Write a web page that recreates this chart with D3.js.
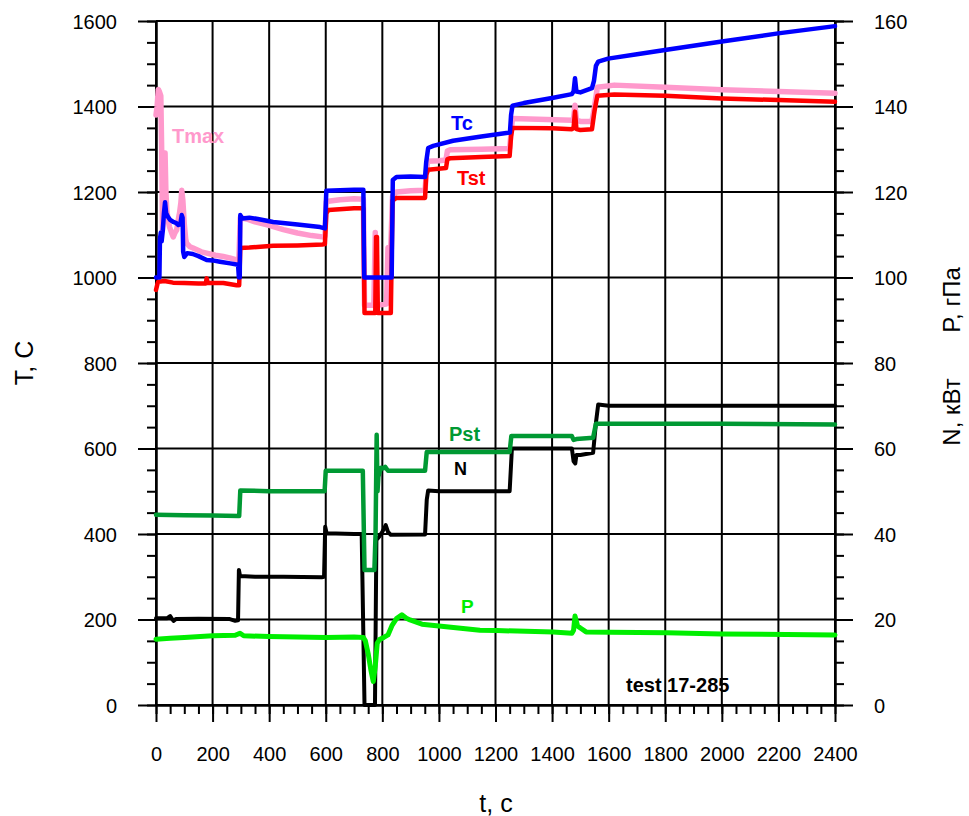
<!DOCTYPE html>
<html>
<head>
<meta charset="utf-8">
<script src="https://cdn.jsdelivr.net/npm/d3@7"></script>
<style>
  html, body { margin: 0; padding: 0; background: #fff; }
  svg { display: block; font-family: "Liberation Sans", Arial, sans-serif; }
</style>
</head>
<body>
<svg id="chart" width="969" height="816"></svg>
<script>
// ---------- DATA ----------
// time axis ticks (s)
const tMajorTicks = [0, 200, 400, 600, 800, 1000, 1200, 1400, 1600, 1800, 2000, 2200, 2400];
const tMinorTicks = d3.range(0, 2401, 50);
// left axis (T, C)
const tempMajorTicks = [0, 200, 400, 600, 800, 1000, 1200, 1400, 1600];
const tempMinorTicks = d3.range(0, 1601, 50);
// right axis (N, kW / P, hPa)
const rightMajorTicks = [0, 20, 40, 60, 80, 100, 120, 140, 160];
const rightMinorTicks = d3.range(0, 161, 5);

// Tc, C  [t, value]
const seriesTc = [[0,1000],[12,1000],[14,1090],[17,1105],[20,1085],[24,1110],[28,1150],[32,1176],[36,1150],[43,1141],[50,1135],[61,1130],[70,1128],[79,1123],[86,1125],[91,1146],[94,1140],[96,1060],[100,1048],[110,1057],[130,1055],[150,1050],[179,1041],[200,1040],[226,1037],[262,1033],[290,1030],[293,1000],[296,1000],[298,1146],[305,1138],[330,1140],[360,1137],[414,1130],[500,1124],[580,1118],[597,1115],[602,1203],[650,1204],[700,1205],[733,1205],[736,1000],[833,1000],[837,1228],[850,1235],[900,1236],[951,1235],[955,1270],[962,1303],[980,1308],[1050,1320],[1150,1330],[1251,1339],[1255,1380],[1260,1402],[1300,1408],[1400,1420],[1470,1429],[1476,1435],[1481,1466],[1486,1435],[1500,1433],[1541,1443],[1548,1460],[1555,1495],[1563,1505],[1598,1512],[1700,1522],[1799,1532],[2000,1552],[2199,1571],[2400,1588]];

// Tmax, C
const seriesTmax = [[0,1380],[4,1400],[8,1440],[12,1435],[17,1425],[20,1300],[23,1110],[27,1140],[30,1230],[32,1291],[35,1200],[38,1158],[44,1130],[48,1118],[55,1105],[61,1095],[67,1105],[73,1111],[80,1140],[83,1150],[88,1175],[91,1204],[95,1180],[100,1125],[105,1090],[108,1080],[120,1072],[131,1069],[160,1060],[179,1057],[210,1052],[238,1049],[260,1046],[285,1041],[293,1045],[298,1140],[320,1137],[350,1130],[400,1122],[450,1112],[500,1104],[550,1098],[588,1095],[597,1096],[602,1178],[650,1182],[700,1184],[733,1183],[737,935],[770,935],[775,1105],[780,935],[815,938],[820,1070],[830,1075],[836,1190],[850,1200],[900,1203],[951,1204],[955,1240],[960,1272],[1000,1273],[1025,1275],[1030,1296],[1040,1299],[1150,1300],[1250,1302],[1255,1340],[1260,1372],[1350,1370],[1470,1368],[1476,1372],[1481,1403],[1486,1368],[1500,1365],[1541,1365],[1550,1400],[1560,1445],[1620,1450],[1800,1445],[2000,1439],[2200,1435],[2400,1431]];

// Tst, C
const seriesTst = [[0,971],[5,985],[8,990],[30,992],[60,988],[100,987],[150,986],[176,986],[179,998],[183,987],[238,987],[285,982],[294,982],[298,1069],[330,1070],[414,1074],[500,1075],[588,1077],[597,1078],[602,1150],[610,1158],[700,1162],[733,1162],[737,917],[775,917],[778,1095],[781,1095],[784,917],[830,917],[836,1180],[850,1186],[951,1186],[955,1240],[962,1252],[1025,1256],[1030,1277],[1040,1279],[1150,1282],[1250,1284],[1255,1330],[1260,1350],[1400,1349],[1470,1347],[1476,1350],[1481,1388],[1486,1347],[1500,1345],[1541,1347],[1550,1390],[1560,1425],[1620,1428],[1800,1425],[2000,1419],[2200,1415],[2400,1411]];

// N, kW
const seriesN = [[0,20.3],[40,20.3],[50,20.8],[56,20.2],[62,19.7],[70,20.1],[150,20.2],[261,20.1],[280,19.7],[290,19.8],[293,31.6],[297,30.2],[350,30.0],[450,30.0],[586,29.9],[594,30.0],[598,41.7],[603,40.2],[700,40.0],[727,40.0],[737,0],[774,0],[779,38.6],[790,39.5],[800,40.5],[812,42.1],[820,40.5],[830,39.8],[951,39.9],[957,48],[962,50.2],[1000,50.0],[1150,50.0],[1250,50.0],[1258,60],[1300,60],[1470,60],[1476,57],[1482,56.5],[1486,58.5],[1500,58.5],[1545,59],[1555,66],[1563,70.3],[1600,70],[1800,70],[2000,70],[2400,70]];

// Pst, hPa
const seriesPst = [[0,44.5],[100,44.4],[200,44.3],[294,44.2],[298,50.2],[400,50.0],[500,50.0],[596,50.0],[600,54.8],[700,54.8],[731,54.8],[737,31.6],[772,31.6],[776,40],[780,63.2],[783,50],[786,53.4],[795,55.5],[805,55.4],[810,55.7],[820,54.8],[951,54.8],[957,59.2],[1000,59.2],[1250,59.2],[1256,62.9],[1470,62.9],[1476,62.0],[1486,62.2],[1545,62.5],[1555,65.8],[1600,65.8],[2000,65.8],[2400,65.6]];

// P, hPa
const seriesP = [[0,15.4],[50,15.6],[100,15.8],[200,16.2],[280,16.3],[297,16.8],[310,16.2],[400,16.0],[500,15.9],[600,15.8],[700,15.9],[733,15.8],[740,15.0],[750,12],[760,8],[768,5.5],[775,9],[782,14.5],[790,15.3],[805,15.8],[820,16.4],[835,18.7],[850,20.2],[869,21.1],[885,20.3],[898,19.9],[940,18.9],[1000,18.5],[1145,17.5],[1204,17.4],[1404,17.1],[1470,16.8],[1476,17.5],[1481,20.8],[1490,18.5],[1500,18.0],[1520,17.1],[1605,17.0],[1805,16.9],[2000,16.6],[2400,16.4]];

// ---------- CHART ----------
const svg = d3.select("#chart");
const x = d3.scaleLinear().domain([0, 2400]).range([156, 835]);
const yL = d3.scaleLinear().domain([0, 1600]).range([705, 21]);
const yR = d3.scaleLinear().domain([0, 160]).range([705, 21]);

const gridG = svg.append("g").attr("stroke", "#000").attr("stroke-width", 2);
gridG.selectAll("line.h").data(tempMajorTicks).join("line")
  .attr("x1", x(0)).attr("x2", x(2400))
  .attr("y1", d => yL(d)).attr("y2", d => yL(d));
gridG.selectAll("line.v").data(tMajorTicks).join("line")
  .attr("y1", yL(0)).attr("y2", yL(1600))
  .attr("x1", d => x(d)).attr("x2", d => x(d));

function styleAxis(g) {
  g.selectAll("path.domain").attr("stroke", "#000").attr("stroke-width", 2);
  g.selectAll(".tick line").attr("stroke", "#000").attr("stroke-width", 2);
  g.selectAll(".tick text").attr("fill", "#000").attr("font-size", 20)
    .attr("font-family", "Liberation Sans, Arial, sans-serif");
}

// minor ticks
svg.append("g").attr("transform", `translate(${x(0)},0)`)
  .call(d3.axisLeft(yL).tickValues(tempMinorTicks).tickSize(9).tickSizeOuter(0).tickFormat(""))
  .call(styleAxis);
svg.append("g").attr("transform", `translate(${x(2400)},0)`)
  .call(d3.axisRight(yR).tickValues(rightMinorTicks).tickSize(9).tickSizeOuter(0).tickFormat(""))
  .call(styleAxis);
svg.append("g").attr("transform", `translate(0,${yL(0)})`)
  .call(d3.axisBottom(x).tickValues(tMinorTicks).tickSize(9).tickSizeOuter(0).tickFormat(""))
  .call(styleAxis);

// major ticks + labels
const leftAx = svg.append("g").attr("transform", `translate(${x(0)},0)`)
  .call(d3.axisLeft(yL).tickValues(tempMajorTicks).tickSize(18).tickSizeOuter(0).tickPadding(21).tickFormat(d3.format("d")))
  .call(styleAxis);
leftAx.selectAll(".tick text").attr("dy", "0.35em");
const rightAx = svg.append("g").attr("transform", `translate(${x(2400)},0)`)
  .call(d3.axisRight(yR).tickValues(rightMajorTicks).tickSize(18).tickSizeOuter(0).tickPadding(21).tickFormat(d3.format("d")))
  .call(styleAxis);
rightAx.selectAll(".tick text").attr("dy", "0.35em");
const botAx = svg.append("g").attr("transform", `translate(0,${yL(0)})`)
  .call(d3.axisBottom(x).tickValues(tMajorTicks).tickSize(17).tickSizeOuter(0).tickPadding(25).tickFormat(d3.format("d")))
  .call(styleAxis);
botAx.selectAll(".tick text").attr("dy", "0.71em");

// series
const lineL = d3.line().x(d => x(d[0])).y(d => yL(d[1]));
const lineR = d3.line().x(d => x(d[0])).y(d => yR(d[1]));
const seriesG = svg.append("g").attr("fill", "none")
  .attr("stroke-linejoin", "round").attr("stroke-linecap", "round");
seriesG.append("path").attr("d", lineL(seriesTmax)).attr("stroke", "#ff99cc").attr("stroke-width", 5.5);
seriesG.append("path").attr("d", lineL(seriesTst)).attr("stroke", "#ff0000").attr("stroke-width", 4.5);
seriesG.append("path").attr("d", lineL(seriesTc)).attr("stroke", "#0000ff").attr("stroke-width", 4.5);
seriesG.append("path").attr("d", lineR(seriesN)).attr("stroke", "#000000").attr("stroke-width", 4);
seriesG.append("path").attr("d", lineR(seriesPst)).attr("stroke", "#009933").attr("stroke-width", 4.5);
seriesG.append("path").attr("d", lineR(seriesP)).attr("stroke", "#00ee00").attr("stroke-width", 5);

// series labels
const labels = [
  {text: "Tmax", x: 172, y: 143, color: "#ff99cc", size: 20},
  {text: "Tc", x: 451, y: 130, color: "#0000ff", size: 20},
  {text: "Tst", x: 457, y: 185, color: "#ff0000", size: 20},
  {text: "Pst", x: 449, y: 441, color: "#009933", size: 20},
  {text: "N", x: 454, y: 475, color: "#000000", size: 18},
  {text: "P", x: 461, y: 613, color: "#00ee00", size: 19},
  {text: "test 17-285", x: 626, y: 692, color: "#000000", size: 20}
];
svg.append("g").selectAll("text").data(labels).join("text")
  .attr("x", d => d.x).attr("y", d => d.y)
  .attr("fill", d => d.color).attr("font-size", d => d.size)
  .attr("font-weight", "bold").text(d => d.text);

// axis titles
svg.append("text").attr("transform", "translate(33,363) rotate(-90)")
  .attr("text-anchor", "middle").attr("font-size", 25).text("T, C");
svg.append("text").attr("x", 496).attr("y", 812)
  .attr("text-anchor", "middle").attr("font-size", 25).text("t, c");
svg.append("text").attr("transform", "translate(960,300) rotate(-90)")
  .attr("text-anchor", "middle").attr("font-size", 24).text("P, гПа");
svg.append("text").attr("transform", "translate(960,412) rotate(-90)")
  .attr("text-anchor", "middle").attr("font-size", 24).text("N, кВт");
</script>
</body>
</html>
